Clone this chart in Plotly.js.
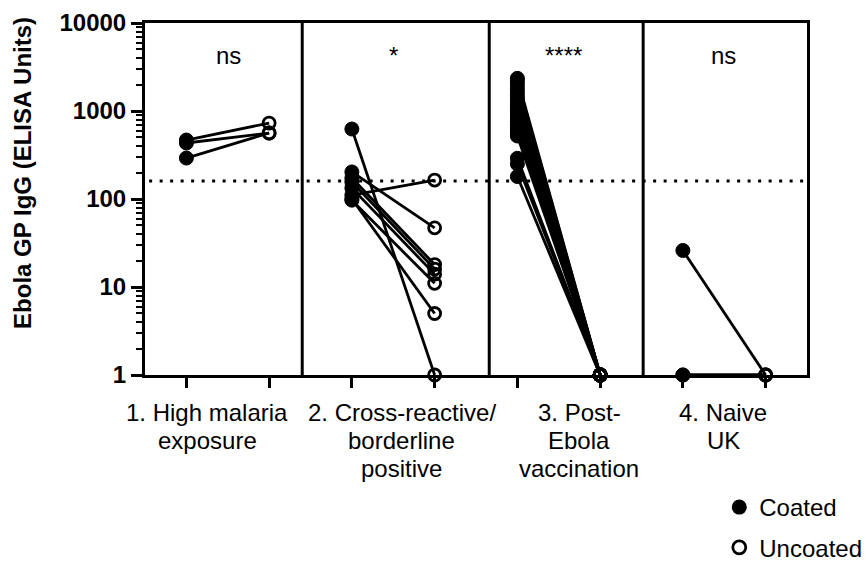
<!DOCTYPE html>
<html>
<head>
<meta charset="utf-8">
<script src="https://cdn.plot.ly/plotly-3.0.1.min.js"></script>
<style>
  html, body { margin: 0; padding: 0; background: #ffffff; }
  #chart { width: 866px; height: 561px; }
</style>
</head>
<body>
<div id="chart"></div>
<script>
// Paired antibody readings per donor: coated vs uncoated plate, one pair per line
const g1Coated   = [468, 433, 292];
const g1Uncoated = [730, 562, 562];

const g2Coated   = [624, 203, 173, 156, 133, 111, 97, 100];
const g2Uncoated = [1, 47, 18, 16, 14, 164, 11, 5];

const g3Coated   = [2350, 2200, 2000, 1800, 1650, 1500, 1380, 1250, 1150, 1050, 980, 900,
                    830, 760, 700, 650, 600, 560, 520, 290, 250, 180];
const g3Uncoated = [1, 1, 1, 1, 1, 1, 1, 1, 1, 1, 1, 1,
                    1, 1, 1, 1, 1, 1, 1, 1, 1, 1];

const g4Coated   = [26, 1, 1];
const g4Uncoated = [1, 1, 1];

// Positivity cut-off (dotted line)
const cutoff = 160;

// Significance labels above each panel
const sigLabels = ['ns', '*', '****', 'ns'];

// Group names, split into display lines
const groupLabelLines = [
  ['1. High malaria', 'exposure'],
  ['2. Cross-reactive/', 'borderline', 'positive'],
  ['3. Post-', 'Ebola', 'vaccination'],
  ['4. Naive', 'UK']
];

const yTickVals = [1, 10, 100, 1000, 10000];
const yTickText = ['1', '10', '100', '1000', '10000'];

const seriesNames = ['Coated', 'Uncoated'];

// ---- layout constants ----
const FONT = 'Liberation Sans, Arial, Helvetica, sans-serif';
const groupPairs = [
  [g1Coated, g1Uncoated],
  [g2Coated, g2Uncoated],
  [g3Coated, g3Uncoated],
  [g4Coated, g4Uncoated]
];
const panelDividers = [1.4, 3.66, 5.52];
const sigX = [0.51, 2.5, 4.56, 6.49];
const labelX = [0.25, 2.6, 4.75, 6.49];

// y (paper) of a pixel row measured below the x-axis line (plot height 352px)
const PLOT_H = 352;
const pyFromPx = px => -px / PLOT_H;

const traces = [];
groupPairs.forEach(([coated, uncoated], gi) => {
  const xs = [], ys = [], sym = [], size = [], lw = [];
  const xc = gi * 2, xu = gi * 2 + 1;
  coated.forEach((c, i) => {
    xs.push(xc, xu, null);
    ys.push(c, uncoated[i], null);
    sym.push('circle', 'circle-open', 'circle');
    size.push(14, 12, 0);
    lw.push(1, 2.8, 0);
  });
  traces.push({
    type: 'scatter',
    mode: 'lines+markers',
    x: xs, y: ys,
    connectgaps: false,
    cliponaxis: false,
    showlegend: false,
    hoverinfo: 'skip',
    line: { color: '#000000', width: 2.8 },
    marker: { symbol: sym, size: size, color: '#000000', opacity: 1,
              line: { color: '#000000', width: lw } }
  });
});

// Legend entries
traces.push({
  type: 'scatter', mode: 'markers', x: [null], y: [null],
  name: seriesNames[0], legendgroup: 'c', showlegend: true,
  marker: { symbol: 'circle', size: 15, color: '#000000', opacity: 1 }
});
traces.push({
  type: 'scatter', mode: 'markers', x: [null], y: [null],
  name: seriesNames[1], legendgroup: 'u', showlegend: true,
  marker: { symbol: 'circle-open', size: 13, color: '#000000', opacity: 1,
            line: { width: 2.8, color: '#000000' } }
});

const shapes = [];
panelDividers.forEach(xv => {
  shapes.push({ type: 'line', xref: 'x', yref: 'paper', x0: xv, x1: xv, y0: 0, y1: 1,
                line: { color: '#000000', width: 3 } });
});
shapes.push({ type: 'line', xref: 'x', yref: 'y', x0: -0.45, x1: 7.5, y0: cutoff, y1: cutoff,
              line: { color: '#000000', width: 3, dash: '3px,7.5px' } });

const annotations = [];
sigLabels.forEach((t, i) => {
  annotations.push({ text: t, xref: 'x', yref: 'paper', x: sigX[i], y: 0.909,
                     showarrow: false, xanchor: 'center', yanchor: 'middle',
                     font: { family: FONT, size: 24, color: '#000000' } });
});
groupLabelLines.forEach((lines, gi) => {
  lines.forEach((t, li) => {
    annotations.push({ text: t, xref: 'x', yref: 'paper', x: labelX[gi],
                       y: pyFromPx(37 + 28 * li),
                       showarrow: false, xanchor: 'center', yanchor: 'middle',
                       font: { family: FONT, size: 24, color: '#000000' } });
  });
});
// Vertical axis title
annotations.push({ text: 'Ebola GP IgG (ELISA Units)', xref: 'paper', yref: 'paper',
                   x: -122 / 662, y: 0.574, textangle: -90, showarrow: false,
                   xanchor: 'center', yanchor: 'middle',
                   font: { family: FONT, size: 24, weight: 'bold', color: '#000000' } });

const layout = {
  width: 866, height: 561,
  margin: { l: 145, r: 59, t: 23, b: 186, pad: 0, autoexpand: false },
  paper_bgcolor: '#ffffff', plot_bgcolor: '#ffffff',
  font: { family: FONT, color: '#000000' },
  showlegend: true,
  legend: { x: 0.8675, y: -0.3125, xanchor: 'left', yanchor: 'top',
            traceorder: 'grouped', tracegroupgap: 6,
            bgcolor: 'rgba(0,0,0,0)', borderwidth: 0,
            font: { family: FONT, size: 24, color: '#000000' } },
  xaxis: {
    range: [-0.5, 7.5], showline: true, mirror: true, linewidth: 3, linecolor: '#000000',
    ticks: 'outside', ticklen: 10, tickwidth: 3, tickcolor: '#000000',
    tickvals: [0, 1, 2, 3, 4, 5, 6, 7], showticklabels: false,
    showgrid: false, zeroline: false, fixedrange: true
  },
  yaxis: {
    type: 'log', range: [0, 4], showline: true, mirror: true, linewidth: 3, linecolor: '#000000',
    ticks: 'outside', ticklen: 11, tickwidth: 3, tickcolor: '#000000',
    tickvals: yTickVals, ticktext: yTickText,
    tickfont: { family: FONT, size: 24, weight: 'bold', color: '#000000' },
    minor: { ticks: 'outside', ticklen: 6, tickwidth: 2, tickcolor: '#000000', dtick: 'D1', showgrid: false },
    showgrid: false, zeroline: false, fixedrange: true
  },
  shapes: shapes,
  annotations: annotations
};

Plotly.newPlot('chart', traces, layout, { displayModeBar: false, staticPlot: true });
</script>
</body>
</html>
